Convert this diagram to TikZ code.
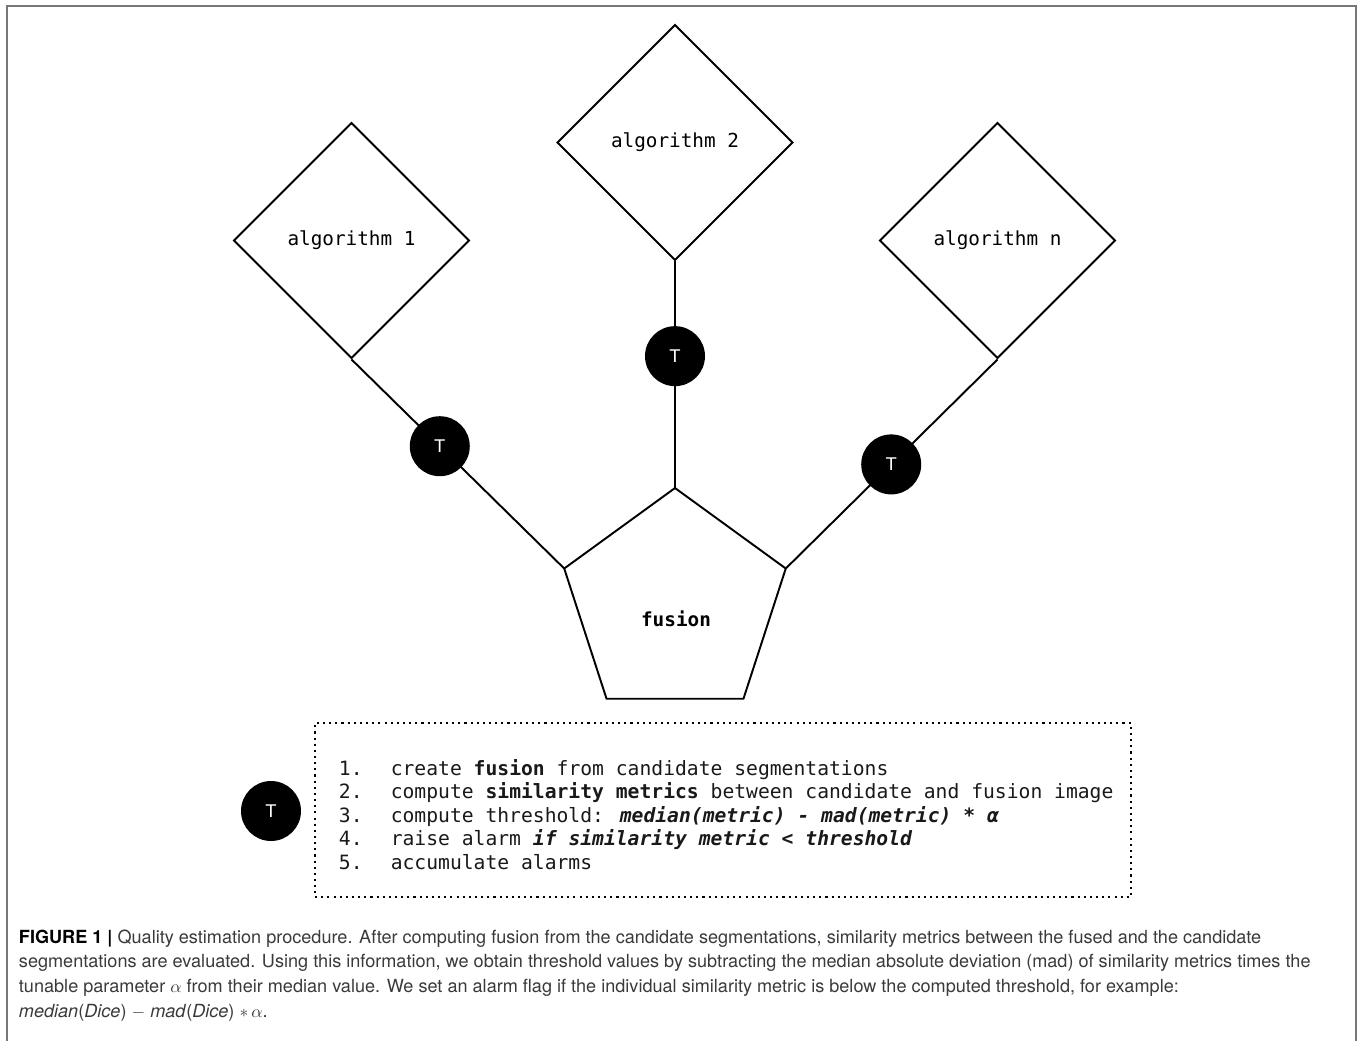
\documentclass[tikz,border=0pt]{standalone}
\usepackage{fontspec}
\setmainfont{TeX Gyre Heros}
\newfontfamily\monofont{DejaVu Sans Mono}[ItalicFont={DejaVu Sans Mono Oblique}, BoldFont={DejaVu Sans Mono Bold}, BoldItalicFont={DejaVu Sans Mono Bold Oblique}]
\newfontfamily\tfont{Liberation Sans}
\usetikzlibrary{shapes.geometric}
\definecolor{framegray}{HTML}{777777}
\definecolor{captext}{HTML}{3A3A3A}
\begin{document}
\begin{tikzpicture}[x=0.02cm,y=-0.02cm,line width=1.1pt,
  algo/.style={diamond,draw,aspect=1,minimum width=4.72cm,minimum height=4.72cm,inner sep=0pt,
    font=\monofont\fontsize{11pt}{13pt}\selectfont},
  fuse/.style={regular polygon,regular polygon sides=5,draw,minimum size=4.66cm,inner sep=0pt,outer sep=0pt},
  tnode/.style={circle,fill=black,minimum size=1.2cm,inner sep=0pt,text=white,
    font=\tfont\fontsize{10.5pt}{10.5pt}\selectfont},
  lst/.style={anchor=base west,inner sep=0pt,text=black!90,font=\monofont\fontsize{11.2pt}{13.3pt}\selectfont},
  captxt/.style={anchor=base west,inner sep=0pt,text=captext,font=\fontsize{10.3pt}{14pt}\selectfont},
  lbl/.style={inner sep=0pt,font=\monofont\fontsize{11pt}{13pt}\selectfont}
]
\useasboundingbox (0,0) rectangle (1360,1041);
\draw[framegray,line width=1.2pt] (7,1041) -- (7,6) -- (1356,6) -- (1356,1041);

\node[algo] (d1) at (351.5,240.5) {\raisebox{-1pt}{algorithm 1}};
\node[algo] (d2) at (675,142.5) {\raisebox{-1pt}{algorithm 2}};
\node[algo] (dn) at (997.5,240.5) {\raisebox{-1pt}{algorithm n}};
\node[fuse] (p) at (675,604.5) {};
\node[lbl] (fl) at (676,619) {\bfseries fusion};

\draw (d1.south) -- node[tnode,pos=0.415] (t1) {T} (p.corner 2);
\draw (d2.south) -- node[tnode,pos=0.418] (t2) {T} (p.corner 1);
\draw (dn.south) -- node[tnode,pos=0.502] (tn) {T} (p.corner 5);

\node[draw,line width=1.2pt,dash pattern=on 1.2pt off 2.3pt,minimum width=16.32cm,minimum height=3.48cm,inner sep=0pt] (box) at (723,810) {};
\node[tnode] (tl) at (271,811) {T};

\node[lst] (l1) at (338,775) {\makebox[29.5pt][l]{1.}create \textbf{fusion} from candidate segmentations};
\node[lst] (l2) at (338,798.5) {\makebox[29.5pt][l]{2.}compute \textbf{similarity metrics} between candidate and fusion image};
\node[lst] (l3) at (338,822) {\makebox[29.5pt][l]{3.}compute threshold: \textbf{\textit{median(metric) - mad(metric) * α}}};
\node[lst] (l4) at (338,845.5) {\makebox[29.5pt][l]{4.}raise alarm \textbf{\textit{if similarity metric < threshold}}};
\node[lst] (l5) at (338,869) {\makebox[29.5pt][l]{5.}accumulate alarms};

\node[captxt] (c1) at (18,943) {\textcolor{black}{\textbf{FIGURE 1 |}} Quality estimation procedure. After computing fusion from the candidate segmentations, similarity metrics between the fused and the candidate};
\node[captxt] (c2) at (18,967.7) {segmentations are evaluated. Using this information, we obtain threshold values by subtracting the median absolute deviation (mad) of similarity metrics times the};
\node[captxt] (c3) at (18,992.4) {tunable parameter $\alpha$ from their median value. We set an alarm flag if the individual similarity metric is below the computed threshold, for example:};
\node[captxt] (c4) at (18,1017) {\textit{median}(\textit{Dice}) $-$ \textit{mad}(\textit{Dice}) $\ast\,\alpha$.};
\end{tikzpicture}
\end{document}
